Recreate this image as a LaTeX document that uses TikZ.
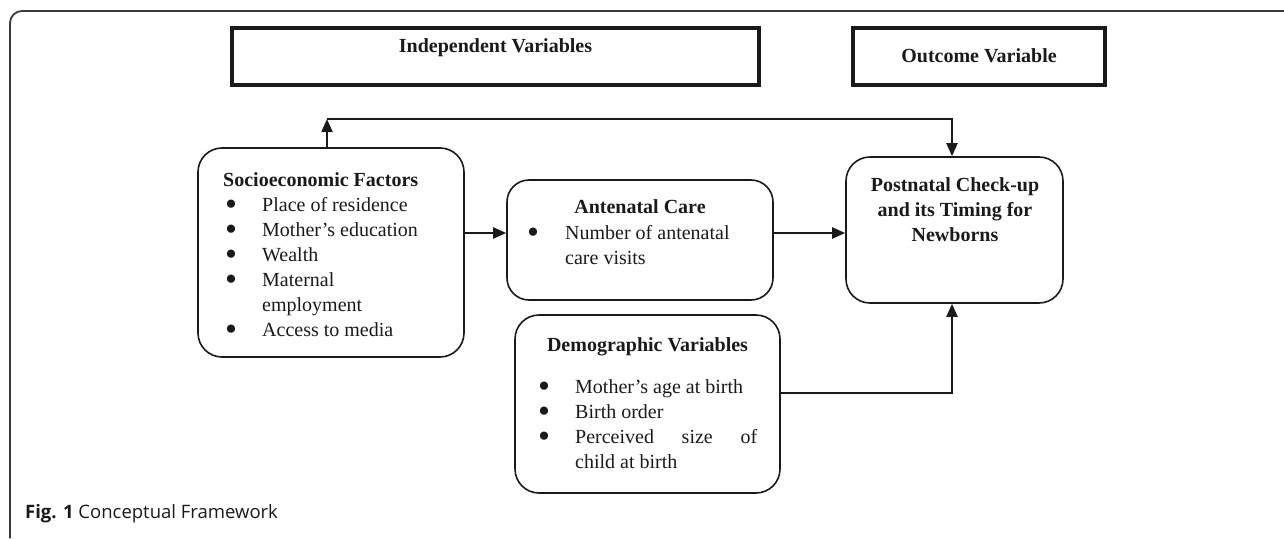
\documentclass[tikz,border=0pt]{standalone}
\usepackage{fontspec}
\setmainfont{Liberation Serif}
\newfontfamily\capfont{Open Sans}
\usetikzlibrary{arrows.meta}
\definecolor{ink}{HTML}{1A1A1A}
\definecolor{framecol}{HTML}{3A3A3A}
\tikzset{
  rbox/.style={draw=ink, line width=1.6pt, rounded corners=24pt, inner sep=0pt},
  tbox/.style={draw=ink, line width=4pt, inner sep=0pt},
  conn/.style={draw=ink, line width=2pt, -{Triangle[length=13pt,width=11pt]}},
  txt/.style={anchor=base west, inner sep=0pt, text=ink, font=\fontsize{20}{25}\selectfont},
  bul/.style={anchor=center, inner sep=0pt, text=ink, font=\fontsize{19}{19}\selectfont},
  head/.style={anchor=base, inner sep=0pt, text=ink, font=\fontsize{20}{25}\selectfont\bfseries},
  headl/.style={anchor=base west, inner sep=0pt, text=ink, font=\fontsize{20}{25}\selectfont\bfseries},
}
\begin{document}
\begin{tikzpicture}[x=1pt,y=-1pt]
\useasboundingbox (0,0) rectangle (1284,538);
% outer frame
\draw[framecol, line width=1.8pt, rounded corners=12pt] (1284,11) -- (10,11) -- (10,538);

% header boxes
\node[tbox, minimum width=527pt, minimum height=57pt] (indep) at (495.5,56.5) {};
\node[head] (indept) at (495.5,52) {Independent Variables};
\node[tbox, minimum width=252pt, minimum height=57pt] (outc) at (979,56.5) {};
\node[head] (outct) at (979,62) {Outcome Variable};

% socioeconomic
\node[rbox, minimum width=266pt, minimum height=209pt] (soc) at (331,252.5) {};
\node[headl] (soch) at (223,186) {Socioeconomic Factors};
\node[bul] (sb1) at (231,205) {●};
\node[txt] (st1) at (262,211) {Place of residence};
\node[bul] (sb2) at (231,230) {●};
\node[txt] (st2) at (262,236) {Mother’s education};
\node[bul] (sb3) at (231,255) {●};
\node[txt] (st3) at (262,261) {Wealth};
\node[bul] (sb4) at (231,280) {●};
\node[txt] (st4) at (262,286) {Maternal};
\node[txt] (st4b) at (262,311) {employment};
\node[bul] (sb5) at (231,330) {●};
\node[txt] (st5) at (262,336) {Access to media};

% antenatal
\node[rbox, rounded corners=22pt, minimum width=266pt, minimum height=120pt] (ant) at (640,240) {};
\node[head] (anth) at (640,213) {Antenatal Care};
\node[bul] (ab1) at (533,233) {●};
\node[txt] (at1) at (565,239) {Number of antenatal};
\node[txt] (at1b) at (565,264) {care visits};

% postnatal
\node[rbox, minimum width=217pt, minimum height=146pt] (post) at (954.5,230) {};
\node[head] (pt1) at (955,191) {Postnatal Check-up};
\node[head] (pt2) at (955,216) {and its Timing for};
\node[head] (pt3) at (955,241) {Newborns};

% demographic
\node[rbox, minimum width=265pt, minimum height=178pt] (demo) at (647.5,404) {};
\node[head] (dh) at (647.5,351) {Demographic Variables};
\node[bul] (db1) at (544,387) {●};
\node[txt] (dt1) at (575,393) {Mother’s age at birth};
\node[bul] (db2) at (544,412) {●};
\node[txt] (dt2) at (575,418) {Birth order};
\node[bul] (db3) at (544,437) {●};
\node[txt] (dt3) at (575,443) {\makebox[182pt][s]{Perceived\hfill size\hfill of}};
\node[txt] (dt3b) at (575,468) {child at birth};

% connectors
\draw[conn] (soc.east |- 0,233) -- (ant.west |- 0,233);
\draw[conn] (ant.east |- 0,233) -- (post.west |- 0,233);
\coordinate (fbL) at (327,119);
\coordinate (fbR) at (952,119);
\draw[conn] (soc.north -| fbL) -- (fbL);
\draw[conn] (fbL) -- (fbR) -- (post.north -| fbR);
\coordinate (dm) at (952,393);
\draw[conn] (demo.east |- dm) -- (dm) -- (post.south -| dm);

% caption
\node[anchor=base west, inner sep=0pt, text=ink, font=\capfont\fontsize{18.5}{22}\selectfont] (cap) at (25,518) {\textbf{Fig. 1} Conceptual Framework};
\end{tikzpicture}
\end{document}
